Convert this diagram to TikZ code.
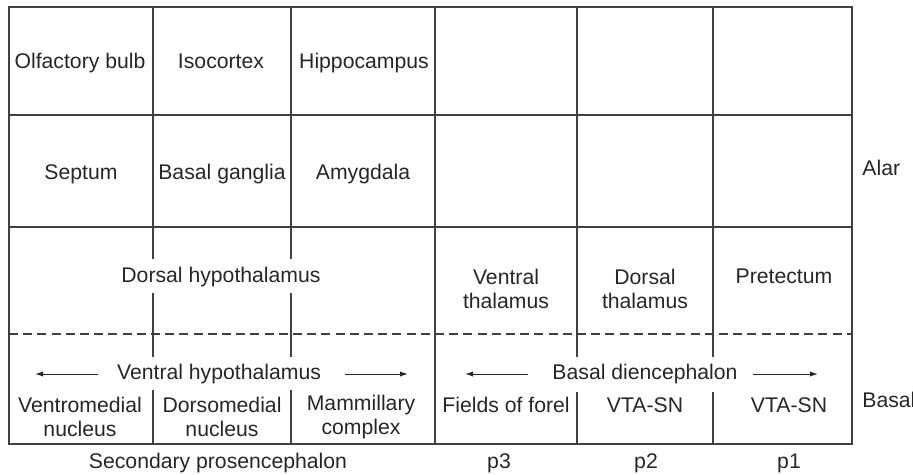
\documentclass[tikz,border=0pt]{standalone}
\usepackage{fontspec}
\setmainfont{Liberation Sans}
\usetikzlibrary{arrows.meta}

\begin{document}
\begin{tikzpicture}[
  x=0.5pt, y=-0.5pt,
  font=\fontsize{10.6}{12.4}\selectfont,
  grid/.style={draw=black!75, line width=0.7pt},
  sep/.style={grid, dash pattern=on 4.5pt off 2.6pt},
  lbl/.style={inner sep=1pt, align=center, text=black!85},
  one/.style={lbl, anchor=base},
  arr/.style={draw=black!85, line width=0.5pt, -{Latex[length=4pt, width=2.6pt]}},
]
\useasboundingbox (0,0) rectangle (913,475);

\draw[grid] (9,7) rectangle (852,444);
\foreach \y in {115,227} { \draw[grid] (9,\y) -- (852,\y); }
\draw[grid] (435,7) -- (435,444);
\foreach \x in {153,291} {
  \draw[grid] (\x,7) -- (\x,259);
  \draw[grid] (\x,293) -- (\x,357);
  \draw[grid] (\x,390) -- (\x,444);
}
\foreach \x in {577,713} {
  \draw[grid] (\x,7) -- (\x,357);
  \draw[grid] (\x,392) -- (\x,444);
}
\draw[sep] (9,334) -- (852,334);

\node[one] (ob)  at (80,69)  {Olfactory bulb};
\node[one] (iso) at (221,69) {Isocortex};
\node[one] (hip) at (364,69) {Hippocampus};
\node[one] (sep) at (81,180)  {Septum};
\node[one] (bg)  at (222,180) {Basal ganglia};
\node[one] (amy) at (363,180) {Amygdala};

\node[one] (dh) at (221,282) {Dorsal hypothalamus};
\node[lbl] (vt) at (506,289) {Ventral\\thalamus};
\node[lbl] (dt) at (645,289) {Dorsal\\thalamus};
\node[one] (pt) at (784,283) {Pretectum};

\node[one] (vh) at (219,379) {Ventral hypothalamus};
\coordinate (vhL1) at (98,374);  \coordinate (vhL2) at (35,374);
\coordinate (vhR1) at (345,374); \coordinate (vhR2) at (408,374);
\draw[arr] (vhL1) -- (vhL2);
\draw[arr] (vhR1) -- (vhR2);

\node[one] (bd) at (645,379) {Basal diencephalon};
\coordinate (bdL1) at (528,374); \coordinate (bdL2) at (465,374);
\coordinate (bdR1) at (753,374); \coordinate (bdR2) at (818,374);
\draw[arr] (bdL1) -- (bdL2);
\draw[arr] (bdR1) -- (bdR2);

\node[lbl] (vmn) at (80,417)  {Ventromedial\\nucleus};
\node[lbl] (dmn) at (222,417) {Dorsomedial\\nucleus};
\node[lbl] (mc)  at (361,417) {Mammillary\\complex};
\node[one] (ff)   at (506,412) {Fields of forel};
\node[one] (vta2) at (645,412) {VTA-SN};
\node[one] (vta1) at (789,412) {VTA-SN};

\node[one, anchor=base west] (alar)  at (860,176) {Alar};
\node[one, anchor=base west] (basal) at (860,407) {Basal};

\node[one] (sp) at (218,468) {Secondary prosencephalon};
\node[one] (p3) at (499,468) {p3};
\node[one] (p2) at (646,468) {p2};
\node[one] (p1) at (789,468) {p1};
\end{tikzpicture}
\end{document}
